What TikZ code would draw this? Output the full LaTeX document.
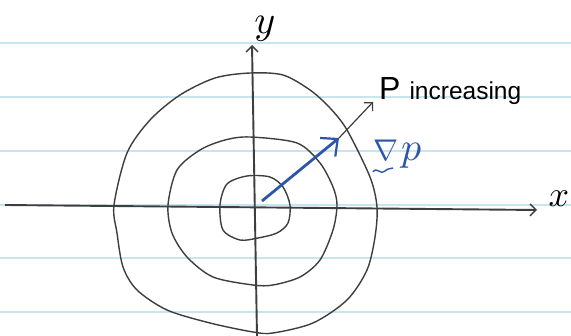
\documentclass[tikz,border=0pt]{standalone}
\usepackage{fontspec}
\usetikzlibrary{arrows.meta}
\definecolor{rule}{RGB}{200,228,238}
\definecolor{pencil}{RGB}{62,62,62}
\definecolor{ink}{RGB}{45,85,170}
\newfontfamily\handfont{Liberation Sans}
\begin{document}
\begin{tikzpicture}[x=1pt,y=-1pt,
  ruleline/.style={rule,line width=1.3pt},
  contour/.style={pencil,line width=1.4pt},
  axis/.style={pencil,line width=1.9pt,-{Straight Barb[length=6pt,width=12pt,line width=1.4pt]}},
  gradarrow/.style={ink,line width=2.8pt,-{Straight Barb[length=13pt,width=24pt,line width=2.2pt]}},
  dirarrow/.style={pencil,line width=1.2pt,-{Straight Barb[length=6pt,width=12pt,line width=1.2pt]}},
  lbl/.style={inner sep=0pt,anchor=center}]
\useasboundingbox (0,0) rectangle (571,336);
\fill[white] (0,0) rectangle (571,336);
% ruled paper
\foreach \yy in {43,97,151,205,258,312}
  \draw[ruleline] (0,\yy) -- (571,\yy);
% contours
\draw[contour] plot[smooth cycle] coordinates {(250,73) (283,75) (310,90) (330,108) (347,130) (370,177) (377,207) (375,237) (367,270) (347,300) (313,323) (273,333) (253,332) (210,323) (167,310) (137,290) (123,267) (117,233) (114,205) (127,153) (150,120) (180,95) (215,78)};
\draw[contour] plot[smooth cycle] coordinates {(250,137) (297,143) (320,163) (333,187) (337,205) (333,230) (320,260) (300,277) (273,285) (253,285) (213,277) (187,257) (172,233) (168,205) (177,170) (200,150) (225,140)};
\draw[contour] plot[smooth cycle] coordinates {(247,176) (270,177) (283,187) (290,205) (288,223) (277,233) (258,238) (240,240) (223,230) (220,205) (227,184)};
% axes
\coordinate (xs) at (5,205);
\coordinate (xe) at (537,210);
\coordinate (ys) at (257,336);
\coordinate (ye) at (252,45);
\draw[axis] (xs) -- (xe);
\draw[axis] (ys) -- (ye);
\node[lbl] (xl) at (559,199) {\scalebox{3.6}{$x$}};
\node[lbl] (yl) at (265,29) {\scalebox{4}{$y$}};
% gradient arrow
\coordinate (g0) at (262,201);
\coordinate (g1) at (339,138);
\coordinate (d1) at (373,102);
\draw[dirarrow] (g1) -- (d1);
\draw[gradarrow] (g0) -- (g1);
\node[lbl,anchor=base west] (pl) at (379,100) {\handfont\fontsize{32}{34}\selectfont P\hspace{9pt}\fontsize{24.5}{26}\selectfont increasing};
\node[lbl,anchor=base west] (gl) at (373,161) {\color{ink}\scalebox{3}{$\nabla$}\hspace{3pt}\scalebox{4}{$p$}};
\draw[ink,line width=1.4pt] (373,172) .. controls (377,166) and (381,176) .. (385,171) .. controls (388,168) and (391,169) .. (393,168);
\end{tikzpicture}
\end{document}
